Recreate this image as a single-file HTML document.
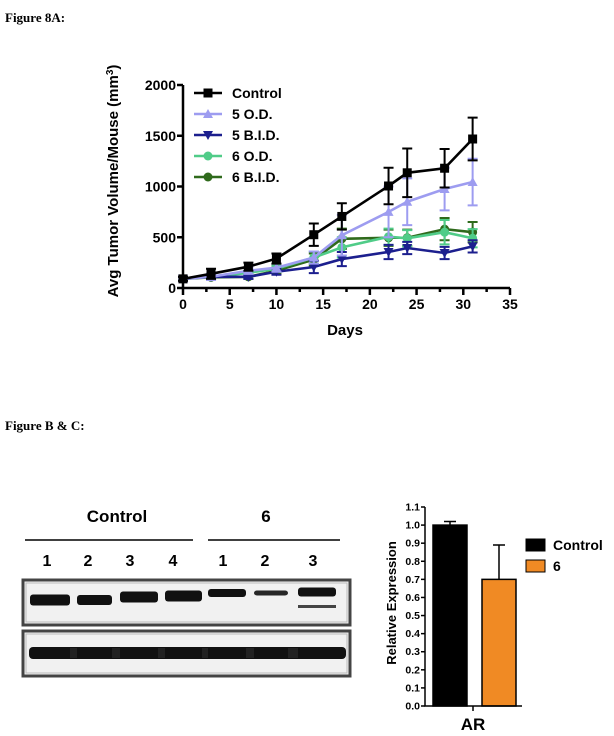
<!DOCTYPE html>
<html><head><meta charset="utf-8">
<style>
body{margin:0;background:#fff;}
svg{display:block;font-family:"Liberation Sans",sans-serif;}
.serif{font-family:"Liberation Serif",serif;font-weight:bold;}
</style></head>
<body>
<svg id="fig" width="614" height="736" viewBox="0 0 614 736">
<text class="serif" x="5" y="22" font-size="13">Figure 8A:</text>
<text class="serif" x="5" y="430" font-size="13">Figure B &amp; C:</text>
<g id="line"></g>
<g id="blot"></g>
<g id="bar"></g>
</svg>
<script>
const days=[0,3,7,10,14,17,22,24,28,31];
const seriesNames=["Control","5 O.D.","5 B.I.D.","6 O.D.","6 B.I.D."];
const controlVals=[90,140,210,290,525,705,1005,1135,1180,1468];
const controlErr=[20,50,40,50,110,130,180,240,190,210];
const od5Vals=[90,110,170,200,300,520,750,850,975,1044];
const od5Err=[15,30,30,40,60,200,250,230,210,230];
const bid5Vals=[90,110,110,160,207,285,355,394,345,410];
const bid5Err=[15,20,20,30,60,70,70,60,60,60];
const od6Vals=[90,110,150,190,300,400,505,490,550,490];
const od6Err=[15,20,20,30,60,100,80,80,120,90];
const bid6Vals=[90,105,110,170,280,485,495,495,580,550];
const bid6Err=[15,20,20,30,60,100,80,80,110,100];
const yTicks=[0,500,1000,1500,2000];
const xTicks=[0,5,10,15,20,25,30,35];
const barCats=["Control","6"];
const barVals=[1.0,0.70];
const barErr=[0.02,0.19];
const barTicks=[0,0.1,0.2,0.3,0.4,0.5,0.6,0.7,0.8,0.9,1.0,1.1];

const NS="http://www.w3.org/2000/svg";
function mk(parent,tag,attrs,text){const e=document.createElementNS(NS,tag);for(const k in attrs)e.setAttribute(k,attrs[k]);if(text!==undefined)e.textContent=text;parent.appendChild(e);return e;}

// ---- line chart
const L=document.getElementById('line');
const X=d=>183+d*(327/35);
const Y=v=>288-v*(203/2000);
const colors=["#000000","#9d9cf0","#1c1f8e","#50cc88","#2f6a1c"];
const vals=[controlVals,od5Vals,bid5Vals,od6Vals,bid6Vals];
const errs=[controlErr,od5Err,bid5Err,od6Err,bid6Err];
const markers=["square","tri","tridown","circle","circle"];
function marker(g,type,x,y,c){
  let e;
  if(type==="square")e=mk(g,'rect',{x:x-4.5,y:y-4.5,width:9,height:9,fill:c});
  else if(type==="tri")e=mk(g,'polygon',{points:`${x},${y-5} ${x-5},${y+4} ${x+5},${y+4}`,fill:c});
  else if(type==="tridown")e=mk(g,'polygon',{points:`${x},${y+5} ${x-5},${y-4} ${x+5},${y-4}`,fill:c});
  else e=mk(g,'circle',{cx:x,cy:y,r:4.5,fill:c});
  
  
}
for(let s=4;s>=0;s--){
  const g=mk(L,'g',{});
  
  
  const c=colors[s];
  days.forEach((d,i)=>{
    const x=X(d),y1=Y(vals[s][i]-errs[s][i]),y2=Y(vals[s][i]+errs[s][i]);
    const eb=mk(g,'path',{d:`M${x},${y1}V${y2}M${x-5},${y1}h10M${x-5},${y2}h10`,stroke:c,'stroke-width':2,fill:'none'});
    
    
  });
  const ln=mk(g,'polyline',{points:days.map((d,i)=>X(d)+','+Y(vals[s][i])).join(' '),stroke:c,'stroke-width':2.6,fill:'none'});
  
  
  days.forEach((d,i)=>marker(g,markers[s],X(d),Y(vals[s][i]),c));
}
const ax=mk(L,'path',{d:`M${X(0)},${Y(2000)}V${Y(0)}H${X(35)}`,stroke:'#000','stroke-width':2.5,fill:'none'});


yTicks.forEach(t=>{
  mk(L,'line',{x1:X(0)-6,x2:X(0),y1:Y(t),y2:Y(t),stroke:'#000','stroke-width':2.5});
  const tl=mk(L,'text',{x:X(0)-7,y:Y(t)+5,'text-anchor':'end','font-size':14,'font-weight':'bold'},t);
  
  
});
for(let d=0;d<=35;d+=2.5){
  const major=d%5===0;
  mk(L,'line',{x1:X(d),x2:X(d),y1:Y(0),y2:Y(0)+(major?7:4),stroke:'#000','stroke-width':2.5});
}
xTicks.forEach(t=>{
  const tl=mk(L,'text',{x:X(t),y:309,'text-anchor':'middle','font-size':14,'font-weight':'bold'},t);
  
  
});
const xt=mk(L,'text',{x:345,y:335,'text-anchor':'middle','font-size':15,'font-weight':'bold'},'Days');


const yt=mk(L,'text',{transform:'translate(118,181) rotate(-90)','text-anchor':'middle','font-size':15,'font-weight':'bold'});


yt.appendChild(document.createTextNode('Avg Tumor Volume/Mouse (mm'));
mk(yt,'tspan',{'baseline-shift':'super','font-size':10},'3');
yt.appendChild(document.createTextNode(')'));
seriesNames.forEach((n,i)=>{
  const y=93+i*21;
  const g=mk(L,'g',{});
  
  
  mk(g,'line',{x1:194,x2:222,y1:y,y2:y,stroke:colors[i],'stroke-width':2.6});
  marker(g,markers[i],208,y,colors[i]);
  mk(g,'text',{x:232,y:y+5,'font-size':14,'font-weight':'bold'},n);
});

// ---- blot
const B=document.getElementById('blot');
const t1=mk(B,'text',{x:117,y:522,'text-anchor':'middle','font-size':17,'font-weight':'bold'},'Control');


const t2=mk(B,'text',{x:266,y:522,'text-anchor':'middle','font-size':17,'font-weight':'bold'},'6');


mk(B,'line',{x1:25,x2:193,y1:540,y2:540,stroke:'#000','stroke-width':1.5});
mk(B,'line',{x1:208,x2:340,y1:540,y2:540,stroke:'#000','stroke-width':1.5});
const lanes=[47,88,130,173,223,265,313];
const laneLbl=["1","2","3","4","1","2","3"];
lanes.forEach((x,i)=>{
  const t=mk(B,'text',{x:x,y:566,'text-anchor':'middle','font-size':16,'font-weight':'bold'},laneLbl[i]);
  
  
});
[[580,45],[631,45]].forEach(([y,h],k)=>{
  const r=mk(B,'rect',{x:23,y:y,width:327,height:h,fill:'#f1f1f1',stroke:'#444','stroke-width':3});
  
  
  mk(B,'rect',{x:26,y:y+3,width:321,height:h-6,fill:'none',stroke:'#bbb','stroke-width':1});
});
const bands=[[30,70,600,11,1],[77,112,600,10,1],[120,158,597,11,1],[165,202,596,11,1],[208,246,593,8,1],[254,288,593,5,.9],[298,336,592,9,1]];
bands.forEach(([a,b,y,h,o])=>{
  const e=mk(B,'rect',{x:a,y:y-h/2,width:b-a,height:h,rx:3,fill:'#111',opacity:o});
  
  
});
mk(B,'rect',{x:298,y:605,width:38,height:3,fill:'#444'});
const lb=mk(B,'rect',{x:29,y:647,width:317,height:12,rx:4,fill:'#111'});


[[70,77],[112,120],[158,165],[202,208],[246,254],[288,298]].forEach(([a,b])=>mk(B,'rect',{x:a,y:648,width:b-a,height:10,fill:'#222'}));

// ---- bar chart
const G=document.getElementById('bar');
const BY=v=>706-v*(199/1.1);
const barX=[433,482],barW=34,barColors=["#000000","#f08a24"];
barVals.forEach((v,i)=>{
  const r=mk(G,'rect',{x:barX[i],y:BY(v),width:barW,height:706-BY(v),fill:barColors[i],stroke:'#000','stroke-width':1.5});
  
  
  const cx=barX[i]+barW/2;
  const e=mk(G,'path',{d:`M${cx},${BY(v)}V${BY(v+barErr[i])}M${cx-6},${BY(v+barErr[i])}h12`,stroke:'#000','stroke-width':1.5,fill:'none'});
  
  
});
mk(G,'path',{d:`M425,${BY(1.1)}V706H522M473,706v5`,stroke:'#000','stroke-width':1.5,fill:'none'});
barTicks.forEach(t=>{
  mk(G,'line',{x1:421,x2:425,y1:BY(t),y2:BY(t),stroke:'#000','stroke-width':1.5});
  const tl=mk(G,'text',{x:420,y:BY(t)+3.5,'text-anchor':'end','font-size':10.5,'font-weight':'bold'},t.toFixed(1));
  
  
});
const by=mk(G,'text',{transform:'translate(396,603) rotate(-90)','text-anchor':'middle','font-size':13,'font-weight':'bold'},'Relative Expression');


const ar=mk(G,'text',{x:473,y:730,'text-anchor':'middle','font-size':17,'font-weight':'bold'},'AR');


barCats.forEach((c,i)=>{
  const g=mk(G,'g',{});
  
  
  const y=539+i*21;
  mk(g,'rect',{x:526,y:y,width:19,height:12,fill:barColors[i],stroke:'#000','stroke-width':1});
  mk(g,'text',{x:553,y:y+11,'font-size':14,'font-weight':'bold'},c);
});
</script>
</body></html>
